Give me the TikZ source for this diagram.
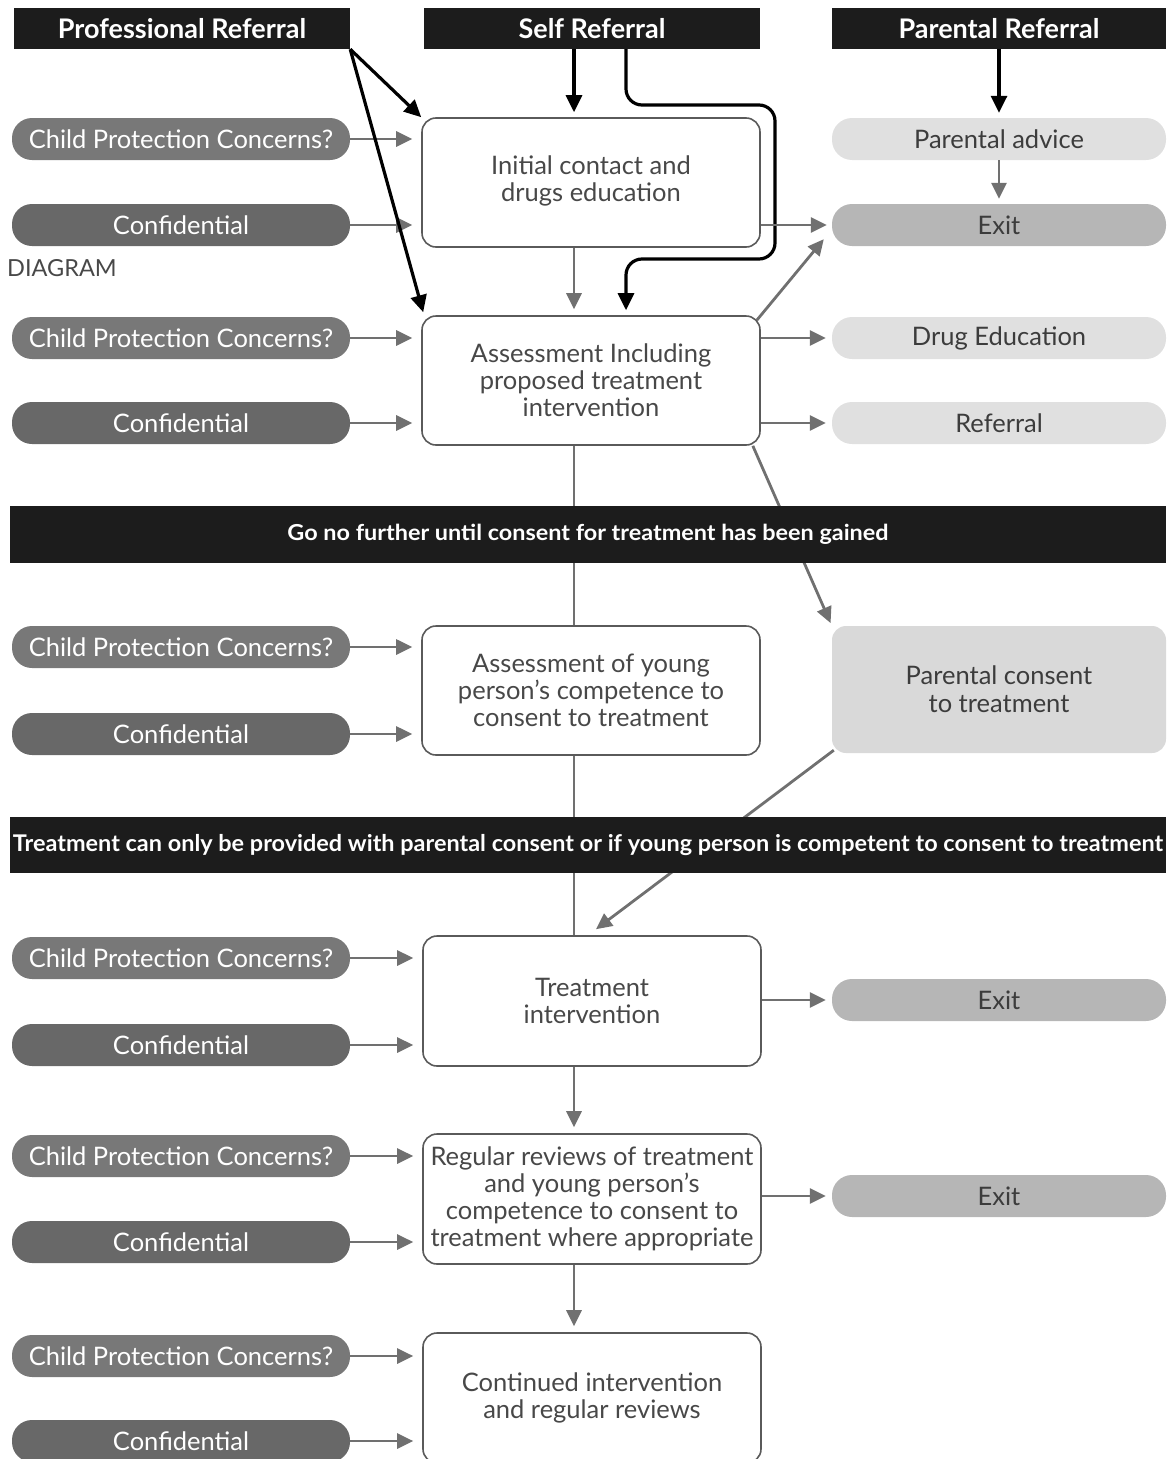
\documentclass[tikz,border=0pt]{standalone}
\usepackage{fontspec}
\setmainfont{Lato}
\usetikzlibrary{arrows.meta,calc}
\definecolor{hdrblack}{HTML}{1C1C1C}
\definecolor{cpcgray}{HTML}{787878}
\definecolor{confgray}{HTML}{686868}
\definecolor{boxline}{HTML}{5A5A5A}
\definecolor{boxtext}{HTML}{484848}
\definecolor{arrowgray}{HTML}{707070}
\definecolor{rlight}{HTML}{E0E0E0}
\definecolor{rexit}{HTML}{B6B6B6}
\definecolor{pconsfill}{HTML}{D9D9D9}
\definecolor{rtext}{HTML}{3C3C3C}
\newcommand\pillfont{\fontsize{25.5}{28}\selectfont}
\newcommand\boxfont{\fontsize{25.5}{27}\selectfont}
\begin{document}
\begin{tikzpicture}[x=1pt,y=-1pt,
  hdr/.style={fill=hdrblack,text=white,font=\bfseries\fontsize{27}{30}\selectfont,minimum width=336pt,minimum height=41pt,inner sep=0pt},
  lpill/.style={rounded corners=20pt,minimum width=338pt,minimum height=42pt,inner sep=0pt,text=white,font=\pillfont},
  cpc/.style={lpill,fill=cpcgray},
  conf/.style={lpill,fill=confgray},
  cbox/.style={draw=boxline,line width=1.6pt,rounded corners=14pt,fill=white,minimum width=338pt,minimum height=129pt,text=boxtext,align=center,font=\boxfont,inner sep=0pt},
  rpill/.style={rounded corners=20pt,minimum width=334pt,minimum height=42pt,inner sep=0pt,text=rtext,font=\pillfont},
  banner/.style={fill=hdrblack,text=white,minimum width=1156pt,inner sep=0pt},
  gline/.style={draw=arrowgray,line width=2.8pt},
  garrow/.style={gline,-{Triangle[length=16pt,width=15pt]}},
  barrow/.style={draw=black,line width=3.2pt,-{Triangle[length=17pt,width=16pt]}}
]
\path[use as bounding box] (0,0) rectangle (1167,1459);
\clip (0,0) rectangle (1167,1459);

\coordinate (sp) at (574,0);
\coordinate (sr) at (626,0);

% headers
\node[hdr] (pro) at (182,28.5) {Professional Referral};
\node[hdr] (self) at (592,28.5) {Self Referral};
\node[hdr,minimum width=334pt] (par) at (999,28.5) {Parental Referral};

\node[anchor=west,text=boxtext,font=\fontsize{23.5}{26}\selectfont,inner sep=0pt] (diag) at (7,268) {DIAGRAM};

% left pills
\node[cpc] (cpc1) at (181,139) {Child Protection Concerns?};
\node[conf] (conf1) at (181,225) {Confidential};
\node[cpc] (cpc2) at (181,338) {Child Protection Concerns?};
\node[conf] (conf2) at (181,423) {Confidential};
\node[cpc] (cpc3) at (181,647) {Child Protection Concerns?};
\node[conf] (conf3) at (181,734) {Confidential};
\node[cpc] (cpc4) at (181,958) {Child Protection Concerns?};
\node[conf] (conf4) at (181,1045) {Confidential};
\node[cpc] (cpc5) at (181,1156) {Child Protection Concerns?};
\node[conf] (conf5) at (181,1242) {Confidential};
\node[cpc] (cpc6) at (181,1356) {Child Protection Concerns?};
\node[conf] (conf6) at (181,1441) {Confidential};

% centre boxes
\node[cbox] (box1) at (591,182.5) {\raisebox{8pt}{\begin{tabular}{@{}c@{}}Initial contact and\\drugs education\end{tabular}}};
\node[cbox] (box2) at (591,380.5) {Assessment Including\\proposed treatment\\intervention};
\node[cbox] (box3) at (591,690.5) {Assessment of young\\person’s competence to\\consent to treatment};
\node[cbox,minimum height=130pt] (box4) at (592,1001) {Treatment\\intervention};
\node[cbox,minimum height=130pt] (box5) at (592,1199) {Regular reviews of treatment\\and young person’s\\competence to consent to\\treatment where appropriate};
\node[cbox,minimum height=130pt] (box6) at (592,1398) {Continued intervention\\and regular reviews};

% right pills
\node[rpill,fill=rlight] (padv) at (999,139) {Parental advice};
\node[rpill,fill=rexit] (exit1) at (999,225) {Exit};
\node[rpill,fill=rlight] (drug) at (999,338) {Drug Education};
\node[rpill,fill=rlight] (refl) at (999,423) {Referral};
\node[rpill,fill=pconsfill,rounded corners=14pt,minimum height=127pt,align=center] (pcons) at (999,689.5) {Parental consent\\to treatment};
\node[rpill,fill=rexit] (exit2) at (999,1000) {Exit};
\node[rpill,fill=rexit] (exit3) at (999,1196) {Exit};

% left pill arrows
\foreach \p/\b in {cpc1/box1,conf1/box1,cpc2/box2,conf2/box2,cpc3/box3,conf3/box3,cpc4/box4,conf4/box4,cpc5/box5,conf5/box5,cpc6/box6,conf6/box6}
  \draw[garrow,shorten >=9pt] (\p.east) -- (\p.east -| \b.west);

% referral arrows
\draw[barrow] (pro.south east) -- (box1.north west);
\draw[barrow] (pro.south east) -- ($(box2.north west)+(2,-3)$);
\draw[barrow,shorten >=5pt] (sp |- self.south) -- (sp |- box1.north);
\draw[barrow,rounded corners=16pt,shorten >=5pt] (sr |- self.south) -- (626,105) -- (775,105) -- (775,259) -- (626,259) -- (sr |- box2.north);
\draw[barrow,shorten >=5pt] (par.south) -- (padv.north);

% right side arrows
\draw[garrow,shorten >=5pt] (padv.south) -- (exit1.north);
\draw[garrow,shorten >=5pt] (box1.east |- exit1.west) -- (exit1.west);
\draw[garrow,shorten >=6pt] (sp |- box1.south) -- (sp |- box2.north);
\draw[garrow] ($(box2.north east)+(-4,5)$) -- ($(exit1.south west)+(-8,-7)$);
\draw[garrow,shorten >=6pt] (box2.east |- drug.west) -- (drug.west);
\draw[garrow,shorten >=6pt] (box2.east |- refl.west) -- (refl.west);
\draw[garrow,shorten >=3pt] ($(box2.south east)+(-8,0)$) -- (pcons.north west);
\draw[gline] (sp |- box2.south) -- (sp |- box3.north);
\draw[gline] (sp |- box3.south) -- (sp |- box4.north);
\draw[garrow] ($(pcons.south west)+(2,-3)$) -- ($(box4.north)+(4,-6)$);
\draw[garrow,shorten >=6pt] (box4.east |- exit2.west) -- (exit2.west);
\draw[garrow,shorten >=6pt] (box5.east |- exit3.west) -- (exit3.west);
\draw[garrow,shorten >=6pt] (sp |- box4.south) -- (sp |- box5.north);
\draw[garrow,shorten >=6pt] (sp |- box5.south) -- (sp |- box6.north);

% banners
\node[banner,minimum height=57pt] (ban1) at (588,534.5) {\resizebox{601pt}{\height}{\bfseries\fontsize{22}{25}\selectfont Go no further until consent for treatment has been gained}};
\node[banner,minimum height=56pt] (ban2) at (588,845) {\resizebox{1150pt}{\height}{\bfseries\fontsize{23}{26}\selectfont Treatment can only be provided with parental consent or if young person is competent to consent to treatment}};
\end{tikzpicture}
\end{document}
